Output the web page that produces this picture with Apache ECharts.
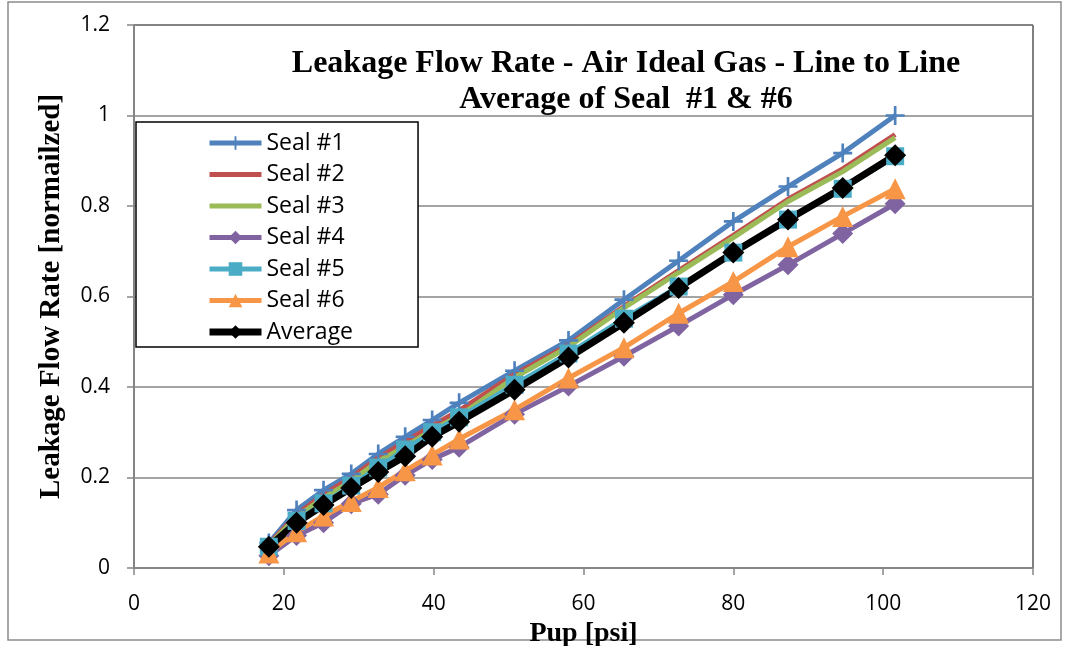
<!DOCTYPE html>
<html>
<head>
<meta charset="utf-8">
<script src="https://cdn.jsdelivr.net/npm/echarts@6/dist/echarts.min.js"></script>
<style>
  html, body { margin: 0; padding: 0; background: #fff; }
  #chart { width: 1069px; height: 646px; }
</style>
</head>
<body>
<div id="chart"></div>
<script>
// Pup [psi] at each measured point
const pup = [18.0, 21.7, 25.3, 29.0, 32.6, 36.2, 39.8, 43.4, 50.8, 58.0, 65.4, 72.7, 80.0, 87.3, 94.6, 101.6];

// normalized leakage
const seal1 = [0.055, 0.128, 0.172, 0.208, 0.252, 0.290, 0.327, 0.365, 0.436, 0.503, 0.593, 0.679, 0.766, 0.843, 0.917, 1.000];
const seal2 = [0.052, 0.118, 0.162, 0.200, 0.243, 0.279, 0.314, 0.348, 0.428, 0.493, 0.578, 0.657, 0.735, 0.815, 0.882, 0.958];
const seal3 = [0.050, 0.113, 0.155, 0.192, 0.236, 0.268, 0.305, 0.336, 0.421, 0.489, 0.575, 0.653, 0.730, 0.810, 0.876, 0.951];
const seal4 = [0.027, 0.072, 0.100, 0.142, 0.163, 0.205, 0.240, 0.267, 0.340, 0.402, 0.468, 0.535, 0.604, 0.670, 0.739, 0.805];
const seal5 = [0.047, 0.104, 0.143, 0.182, 0.222, 0.262, 0.300, 0.333, 0.405, 0.474, 0.551, 0.622, 0.697, 0.770, 0.838, 0.910];
const seal6 = [0.033, 0.080, 0.115, 0.147, 0.178, 0.215, 0.250, 0.285, 0.350, 0.420, 0.487, 0.563, 0.633, 0.710, 0.777, 0.838];
const average = [0.047, 0.100, 0.139, 0.177, 0.212, 0.247, 0.290, 0.323, 0.394, 0.465, 0.542, 0.619, 0.697, 0.770, 0.840, 0.912];

const seriesNames = ["Seal #1", "Seal #2", "Seal #3", "Seal #4", "Seal #5", "Seal #6", "Average"];
const noMarker = ["Seal #2", "Seal #3"];

const chart = echarts.init(document.getElementById("chart"));

const plusPath = "path://M4.3,0 H5.7 V4.3 H10 V5.7 H5.7 V10 H4.3 V5.7 H0 V4.3 H4.3 Z";

function pairs(ys) {
  return pup.map((x, i) => [x, ys[i]]);
}

function lineSeries(name, ys, color, symbol, size, width) {
  return {
    name: name,
    type: "line",
    data: pairs(ys),
    symbol: symbol,
    symbolSize: size,
    showSymbol: symbol !== "none",
    lineStyle: { color: color, width: width },
    itemStyle: { color: color },
    emphasis: { disabled: true },
    animation: false
  };
}

const font = "'Open Sans', sans-serif";
const serif = "'Liberation Serif', 'Times New Roman', serif";

const options = {
  backgroundColor: "#fff",
  title: {
    text: "Leakage Flow Rate - Air Ideal Gas - Line to Line\nAverage of Seal  #1 & #6",
    left: 621,
    top: 41,
    textAlign: "center",
    textStyle: {
      fontFamily: serif,
      fontWeight: "bold",
      fontSize: 32,
      lineHeight: 36,
      color: "#000"
    }
  },
  legend: {
    orient: "vertical",
    left: 136,
    top: 122,
    padding: [8, 65, 2, 70],
    itemWidth: 52,
    itemHeight: 17,
    itemGap: 5.5,
    borderColor: "#000",
    borderWidth: 1.5,
    backgroundColor: "#fff",
    lineStyle: { width: "inherit" },
    data: seriesNames.map((n) =>
      noMarker.includes(n) ? { name: n, itemStyle: { opacity: 0 } } : { name: n }
    ),
    textStyle: { fontFamily: font, fontSize: 23, lineHeight: 26, color: "#000" }
  },
  grid: {
    left: 134,
    right: 36,
    top: 25,
    bottom: 78,
    outerBoundsMode: "none",
    show: true,
    borderColor: "#000",
    borderWidth: 1
  },
  xAxis: {
    type: "value",
    min: 0,
    max: 120,
    interval: 20,
    name: "Pup [psi]",
    nameLocation: "middle",
    nameGap: 47,
    nameTextStyle: { fontFamily: serif, fontWeight: "bold", fontSize: 28, color: "#000" },
    axisLine: { show: true, lineStyle: { color: "#868686", width: 1.5 } },
    axisTick: { show: true, length: 7, lineStyle: { color: "#868686", width: 1.5 } },
    axisLabel: { fontFamily: font, fontSize: 21, color: "#000", margin: 26 },
    splitLine: { show: false }
  },
  yAxis: {
    type: "value",
    min: 0,
    max: 1.2,
    interval: 0.2,
    name: "Leakage Flow Rate [normailzed]",
    nameLocation: "middle",
    nameGap: 68,
    nameRotate: 90,
    nameTextStyle: { fontFamily: serif, fontWeight: "bold", fontSize: 29, color: "#000" },
    axisLine: { show: true, lineStyle: { color: "#868686", width: 1.5 } },
    axisTick: { show: true, length: 7, lineStyle: { color: "#868686", width: 1.5 } },
    axisLabel: { fontFamily: font, fontSize: 21, color: "#000", margin: 24 },
    splitLine: { show: true, lineStyle: { color: "#868686", width: 1.5 } }
  },
  graphic: [
    {
      type: "rect",
      shape: { x: 8, y: 2, width: 1053, height: 638 },
      style: { fill: "none", stroke: "#8c8c8c", lineWidth: 1.5 },
      silent: true,
      z: -1
    }
  ],
  series: [
    lineSeries("Seal #1", seal1, "#4F81BD", plusPath, 19, 5),
    lineSeries("Seal #2", seal2, "#C0504D", "none", 0, 5),
    lineSeries("Seal #3", seal3, "#9BBB59", "none", 0, 5),
    lineSeries("Seal #4", seal4, "#8064A2", "diamond", 21, 5),
    lineSeries("Seal #5", seal5, "#4BACC6", "rect", 18, 5),
    lineSeries("Seal #6", seal6, "#F79646", "triangle", 21, 5),
    lineSeries("Average", average, "#000000", "diamond", 22, 7)
  ]
};

chart.setOption(options);
</script>
</body>
</html>
